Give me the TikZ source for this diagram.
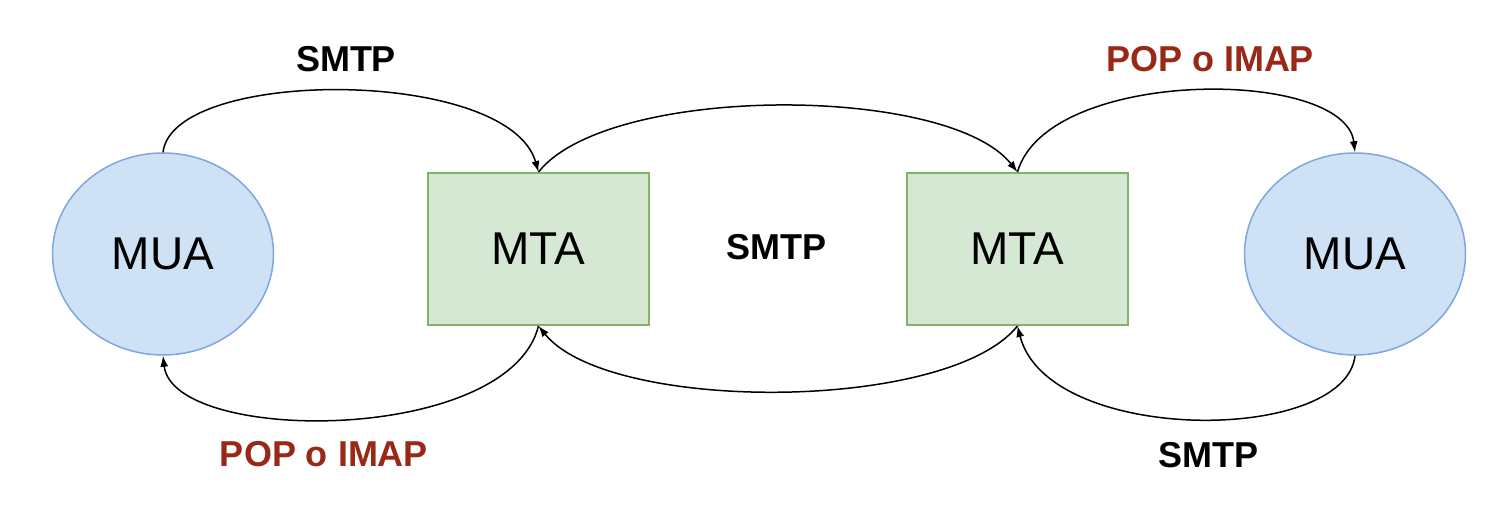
\documentclass[tikz,border=0pt]{standalone}
\usepackage{fontspec}
\setmainfont{Liberation Sans}
\usetikzlibrary{arrows.meta,shapes.geometric}
\definecolor{muafill}{RGB}{206,225,245}
\definecolor{muadraw}{RGB}{126,166,224}
\definecolor{mtafill}{RGB}{213,232,212}
\definecolor{mtadraw}{RGB}{130,179,102}
\definecolor{protored}{RGB}{153,40,22}

\begin{document}
\begin{tikzpicture}[x=0.5pt,y=-0.5pt,line width=0.75pt,
	agent/.style={ellipse,draw=muadraw,fill=muafill,line width=0.75pt,minimum width=110.5pt,minimum height=101pt,font=\fontsize{23}{28}\selectfont},
	server/.style={rectangle,draw=mtadraw,fill=mtafill,line width=1pt,minimum width=110.5pt,minimum height=76pt,font=\fontsize{23}{28}\selectfont},
	proto/.style={font=\fontsize{18}{22}\selectfont\bfseries},
	flow/.style={-{Latex[length=5.5pt,width=4pt]}}]
	\useasboundingbox (0,0) rectangle (1511,512);
	\node (mua1) at (163,254) [agent] {MUA};
	\node (mta1) at (538.5,249) [server] {MTA};
	\node (mta2) at (1017.5,249) [server] {MTA};
	\node (mua2) at (1355,254) [agent] {MUA};
	\node (smtp1) at (346,59.5) [proto] {SMTP};
	\node (smtp2) at (776,247) [proto] {SMTP};
	\node (smtp3) at (1208,455) [proto] {SMTP};
	\node (imap1) at (324,454) [proto,text=protored] {POP o IMAP};
	\node (imap2) at (1210,59.5) [proto,text=protored] {POP o IMAP};
	\draw [flow] (mua1.north) .. controls +(10,-85) and +(-30,-105) .. (mta1.north);
	\draw [flow] (mta1.north) .. controls +(70,-88) and +(-70,-88) .. (mta2.north);
	\draw [flow] (mta2.north) .. controls +(30,-105) and +(-10,-85) .. (mua2.north);
	\draw [flow] (mua2.south) .. controls +(-10,89) and +(30,119) .. (mta2.south);
	\draw [flow] (mta2.south) .. controls +(-70,87) and +(70,87) .. (mta1.south);
	\draw [flow] (mta1.south) .. controls +(-30,119) and +(10,89) .. (mua1.south);
\end{tikzpicture}
\end{document}
